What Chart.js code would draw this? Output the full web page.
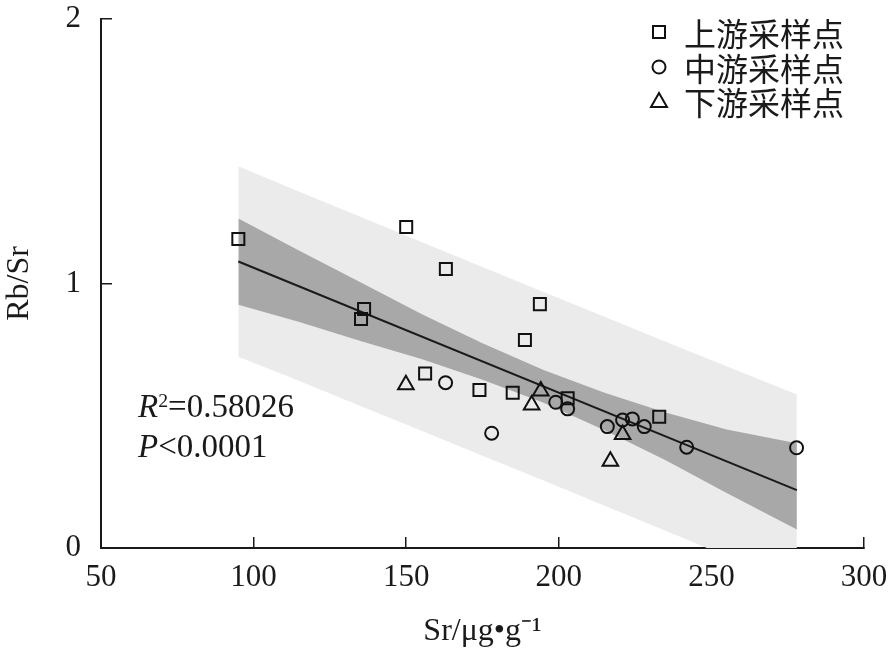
<!DOCTYPE html>
<html lang="zh">
<head>
  <meta charset="UTF-8">
  <title>Rb/Sr - Sr</title>
  <script src="https://cdn.jsdelivr.net/npm/chart.js"></script>
  <style>
    body { margin: 0; background: #fff; }
    #wrap { position: relative; width: 891px; height: 655px; }
    #stats {
      position: absolute; left: 138px; top: 386px;
      font: 33px "Liberation Serif", serif; line-height: 40px; color: #1a1a1a;
    }
    #stats sup { font-size: 0.6em; line-height: 0; vertical-align: 0.5em; }
    .leg {
      position: absolute; left: 648px; height: 34px; display: flex; align-items: center;
      font: 32px "Noto Sans CJK SC", sans-serif; color: #1a1a1a;
    }
    .leg svg { width: 22px; height: 22px; margin-right: 14px; }
  </style>
</head>
<body>
  <div id="wrap">
    <canvas id="chart" width="891" height="655"></canvas>
    <div id="stats"><i>R</i><sup>2</sup>=0.58026<br><i>P</i>&lt;0.0001</div>
    <div class="leg" style="top:15px"><svg viewBox="0 0 22 22"><rect x="5" y="5" width="12" height="12" fill="none" stroke="#111" stroke-width="2"/></svg>上游采样点</div>
    <div class="leg" style="top:50px"><svg viewBox="0 0 22 22"><circle cx="11" cy="11" r="6.5" fill="none" stroke="#111" stroke-width="2"/></svg>中游采样点</div>
    <div class="leg" style="top:84px"><svg viewBox="0 0 22 22"><polygon points="11,3 19,17 3,17" fill="none" stroke="#111" stroke-width="2"/></svg>下游采样点</div>
  </div>

  <script>
    // sample points
    const upX = [95, 150, 163, 136.2, 135.2, 193.8, 188.9, 156.2, 174, 184.9, 202.9, 232.9];
    const upY = [1.168, 1.214, 1.055, 0.904, 0.866, 0.922, 0.786, 0.660, 0.597, 0.587, 0.566, 0.496];
    const midX = [162.9, 178, 199, 202.9, 215.9, 220.9, 224.1, 228, 241.9, 277.9];
    const midY = [0.625, 0.434, 0.551, 0.526, 0.459, 0.484, 0.488, 0.459, 0.381, 0.379];
    const lowX = [149.9, 194.1, 191.1, 220.9, 216.9];
    const lowY = [0.617, 0.594, 0.541, 0.429, 0.328];

    // regression line and bands
    const fitX = [95, 278];
    const fitY = [1.083, 0.219];
    const bandX  = [95, 115, 135, 155, 175, 195, 215, 235, 255, 278];
    const predHi = [1.443, 1.347, 1.252, 1.157, 1.062, 0.968, 0.874, 0.780, 0.687, 0.580];
    const predLo = [0.723, 0.631, 0.537, 0.443, 0.349, 0.255, 0.160, 0.065, -0.031, -0.140];
    const confHi = [1.246, 1.124, 1.005, 0.885, 0.774, 0.673, 0.587, 0.512, 0.448, 0.396];
    const confLo = [0.920, 0.854, 0.783, 0.715, 0.636, 0.549, 0.445, 0.332, 0.208, 0.070];

    const xTicks = [50, 100, 150, 200, 250, 300];
    const yTicks = [0, 1, 2];

    const ink = "#1a1a1a";
    const serif = "'Liberation Serif', 'Times New Roman', serif";

    function pts(xs, ys) {
      return xs.map((x, i) => ({ x, y: ys[i] }));
    }

    function marks(label, xs, ys, style, r) {
      return {
        label, data: pts(xs, ys), pointStyle: style, pointRadius: r,
        pointBorderColor: "#111", pointBackgroundColor: "rgba(0,0,0,0)",
        pointBorderWidth: 2, order: 0
      };
    }

    function edge(label, ys, fill, color, order) {
      return {
        type: "line", label, data: pts(bandX, ys), showLine: true,
        borderColor: "rgba(0,0,0,0)", pointRadius: 0, tension: 0,
        fill, backgroundColor: color, order
      };
    }

    // keep the plot box fixed: no extra room for edge labels
    function noEdgePad(s) {
      s.paddingTop = 0; s.paddingBottom = 0;
      s.paddingLeft = 0; s.paddingRight = 0;
    }

    new Chart(document.getElementById("chart"), {
      type: "scatter",
      data: {
        datasets: [
          marks("上游采样点", upX, upY, "rect", 8.5),
          marks("中游采样点", midX, midY, "circle", 6.5),
          marks("下游采样点", lowX, lowY, "triangle", 9),
          {
            type: "line", label: "fit", data: pts(fitX, fitY), showLine: true,
            borderColor: ink, borderWidth: 2, pointRadius: 0, order: 1
          },
          edge("confLo", confLo, false, "#a9a8a9", 2),
          edge("confHi", confHi, "-1", "#a9a8a9", 2),
          edge("predLo", predLo, false, "#ebebeb", 3),
          edge("predHi", predHi, "-1", "#ebebeb", 3)
        ]
      },
      options: {
        responsive: false,
        animation: false,
        devicePixelRatio: 1,
        events: [],
        layout: { padding: { left: 0, right: 27, top: 19, bottom: 0 } },
        plugins: { legend: { display: false }, tooltip: { enabled: false } },
        scales: {
          x: {
            type: "linear", min: 50, max: 300,
            afterBuildTicks: s => { s.ticks = xTicks.map(v => ({ value: v })); },
            afterFit: s => { s.height = 107; noEdgePad(s); },
            ticks: { font: { family: serif, size: 31 }, color: ink, padding: 22 },
            grid: { drawOnChartArea: false, tickLength: -11, color: ink, lineWidth: 1.5 },
            border: { color: ink, width: 2 },
            title: {
              display: true, text: "Sr/μg•g⁻¹", color: ink,
              font: { family: serif, size: 32 }, padding: { top: 0, bottom: 4 }
            }
          },
          y: {
            min: 0, max: 2,
            afterBuildTicks: s => { s.ticks = yTicks.map(v => ({ value: v })); },
            afterFit: s => { s.width = 101; noEdgePad(s); },
            ticks: { font: { family: serif, size: 31 }, color: ink, padding: 31 },
            grid: { drawOnChartArea: false, tickLength: -11, color: ink, lineWidth: 1.5 },
            border: { color: ink, width: 2 },
            title: {
              display: true, text: "Rb/Sr", color: ink,
              font: { family: serif, size: 32 }, padding: { top: 0, bottom: 0 }
            }
          }
        }
      }
    });
  </script>
</body>
</html>
